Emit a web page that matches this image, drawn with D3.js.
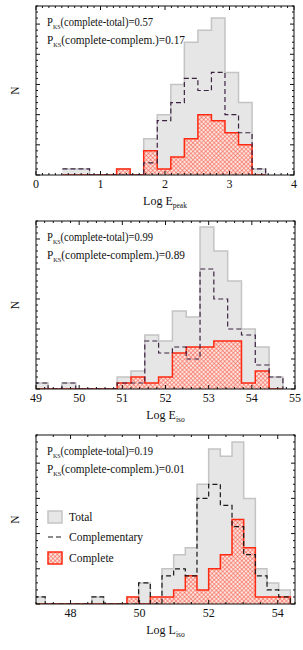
<!DOCTYPE html>
<html>
<head>
<meta charset="utf-8">
<script src="https://d3js.org/d3.v7.min.js"></script>
<style>
	body { margin: 0; padding: 0; background: #fff; }
	svg text { font-family: "Liberation Serif", "DejaVu Serif", serif; fill: #111; }
</style>
</head>
<body>
<svg id="chart" width="303" height="650"></svg>
<script>

// panel 1 : Log Epeak
var start1 = 0.41, width1 = 0.21;
var total1    = [1, 1, 0, 0, 1, 0, 6, 10, 15, 22, 24, 26, 17, 12, 1];
var complem1  = [1, 1, 0, 0, 0, 0, 2, 9, 12, 16, 14, 17, 10, 7, 1];
var complete1 = [0, 0, 0, 0, 1, 0, 4, 1, 3, 6, 10, 9, 7, 5, 0];
var ticks1 = [0, 1, 2, 3, 4];
var ks1 = ["0.57", "0.17"];

// panel 2 : Log Eiso
var start2 = 48.96, width2 = 0.32;
var total2    = [1, 0, 1, 0, 0, 0, 2, 3, 9, 8, 13, 12, 27, 23, 18, 10, 7, 2];
var complem2  = [1, 0, 1, 0, 0, 0, 1, 1, 8, 6, 7, 5, 20, 15, 10, 9, 4, 2];
var complete2 = [0, 0, 0, 0, 0, 0, 1, 2, 1, 2, 6, 7, 7, 8, 8, 1, 3, 0];
var ticks2 = [49, 50, 51, 52, 53, 54, 55];
var ks2 = ["0.99", "0.89"];

// panel 3 : Log Liso
var start3 = 46.93, width3 = 0.338;
var total3    = [1, 0, 0, 0, 0, 1, 0, 0, 1, 3, 1, 5, 7, 8, 17, 22, 21, 23, 15, 5, 3, 2];
var complem3  = [1, 0, 0, 0, 0, 1, 0, 0, 0, 3, 0, 4, 5, 4, 15, 17, 14, 11, 7, 4, 2, 1];
var complete3 = [0, 0, 0, 0, 0, 0, 0, 0, 1, 0, 1, 1, 2, 4, 2, 5, 7, 12, 8, 1, 1, 1];
var ticks3 = [48, 50, 52, 54];
var ks3 = ["0.19", "0.01"];

var legendLabels = ["Total", "Complementary", "Complete"];

var svg = d3.select("#chart");

var defs = svg.append("defs");
var pat = defs.append("pattern")
	.attr("id", "hatch")
	.attr("patternUnits", "userSpaceOnUse")
	.attr("width", 3).attr("height", 3)
	.attr("patternTransform", "rotate(45)");
pat.append("rect").attr("width", 3).attr("height", 3).attr("fill", "#fde3de");
pat.append("line").attr("x1", 0).attr("y1", 0).attr("x2", 0).attr("y2", 3)
	.attr("stroke", "#f4503c").attr("stroke-width", 1);
pat.append("line").attr("x1", 0).attr("y1", 0).attr("x2", 3).attr("y2", 0)
	.attr("stroke", "#f4503c").attr("stroke-width", 1);

var panels = [
	{ start: start1, width: width1, total: total1, complem: complem1, complete: complete1,
	  xdom: [0, 4], ydom: [0, 28], x0: 36, x1: 294, y0: 6, y1: 175,
	  ticks: ticks1, minor: 0.1, ks: ks1, label: "peak", dash: "#3d2342", legend: false },
	{ start: start2, width: width2, total: total2, complem: complem2, complete: complete2,
	  xdom: [49, 55], ydom: [0, 28], x0: 36, x1: 295, y0: 221, y1: 389,
	  ticks: ticks2, minor: 0.2, ks: ks2, label: "iso", dash: "#3d2342", legend: false },
	{ start: start3, width: width3, total: total3, complem: complem3, complete: complete3,
	  xdom: [47, 54.5], ydom: [0, 24], x0: 36, x1: 295, y0: 435, y1: 604,
	  ticks: ticks3, minor: 0.5, ks: ks3, label: "iso", dash: "#1a1a1a", legend: true }
];

panels.forEach(function(p, pi) {
	var x = d3.scaleLinear().domain(p.xdom).range([p.x0, p.x1]);
	var y = d3.scaleLinear().domain(p.ydom).range([p.y1, p.y0]);

	defs.append("clipPath").attr("id", "clip" + pi)
		.append("rect").attr("x", p.x0).attr("y", p.y0)
		.attr("width", p.x1 - p.x0).attr("height", p.y1 - p.y0);

	var g = svg.append("g");
	var plot = g.append("g").attr("clip-path", "url(#clip" + pi + ")");

	function steps(counts) {
		var pts = counts.map(function(c, i) { return { e: p.start + i * p.width, n: c }; });
		pts.push({ e: p.start + counts.length * p.width, n: 0 });
		return pts;
	}

	var area = d3.area()
		.x(function(d) { return x(d.e); })
		.y0(y(0))
		.y1(function(d) { return y(d.n); })
		.curve(d3.curveStepAfter);
	var line = d3.line()
		.x(function(d) { return x(d.e); })
		.y(function(d) { return y(d.n); })
		.curve(d3.curveStepAfter);

	// total
	plot.append("path").datum(steps(p.total))
		.attr("d", area).attr("fill", "#e6e6e6").attr("stroke", "none");
	plot.append("path").datum(steps(p.total))
		.attr("d", line).attr("fill", "none").attr("stroke", "#c4c4c4").attr("stroke-width", 1.5);

	// complete
	plot.append("path").datum(steps(p.complete))
		.attr("d", area).attr("fill", "url(#hatch)").attr("stroke", "none");
	plot.append("path").datum(steps(p.complete))
		.attr("d", line).attr("fill", "none").attr("stroke", "#ff2a12").attr("stroke-width", 1.5);

	// complementary
	plot.append("path").datum(steps(p.complem))
		.attr("d", line).attr("fill", "none").attr("stroke", p.dash)
		.attr("stroke-width", 1.2).attr("stroke-dasharray", "5,3");

	// frame
	g.append("rect").attr("x", p.x0).attr("y", p.y0)
		.attr("width", p.x1 - p.x0).attr("height", p.y1 - p.y0)
		.attr("fill", "none").attr("stroke", "#111").attr("stroke-width", 1);

	// ticks, inward on all four sides
	var minorX = d3.range(p.xdom[0], p.xdom[1] + 1e-6, p.minor);
	var tk = g.append("g").attr("stroke", "#111").attr("stroke-width", 1);
	minorX.forEach(function(v) {
		var major = p.ticks.some(function(t) { return Math.abs(t - v) < 1e-6; });
		var len = major ? 4 : 2;
		tk.append("line").attr("x1", x(v)).attr("x2", x(v)).attr("y1", p.y1).attr("y2", p.y1 - len);
		tk.append("line").attr("x1", x(v)).attr("x2", x(v)).attr("y1", p.y0).attr("y2", p.y0 + len);
	});
	d3.range(p.ydom[0], p.ydom[1] + 1e-6, 1).forEach(function(v) {
		var len = v % 5 === 0 ? 4 : 2;
		tk.append("line").attr("x1", p.x0).attr("x2", p.x0 + len).attr("y1", y(v)).attr("y2", y(v));
		tk.append("line").attr("x1", p.x1).attr("x2", p.x1 - len).attr("y1", y(v)).attr("y2", y(v));
	});

	// x tick labels
	g.selectAll("text.tl").data(p.ticks).enter().append("text")
		.attr("class", "tl")
		.attr("x", function(d) { return x(d); })
		.attr("y", p.y1 + 13)
		.attr("text-anchor", "middle")
		.attr("font-size", 12)
		.text(function(d) { return d; });

	// axis titles
	var xt = g.append("text")
		.attr("x", (p.x0 + p.x1) / 2)
		.attr("y", p.y1 + 30)
		.attr("text-anchor", "middle")
		.attr("font-size", 12);
	xt.append("tspan").text("Log " + (pi === 2 ? "L" : "E"));
	xt.append("tspan").attr("font-size", 7.5).attr("dy", 3).text(p.label);

	g.append("text")
		.attr("transform", "translate(19," + ((p.y0 + p.y1) / 2) + ") rotate(-90)")
		.attr("text-anchor", "middle")
		.attr("font-size", 11.5)
		.text("N");

	// KS annotations
	var names = ["(complete-total)=", "(complete-complem.)="];
	var widths = [106, 138];
	names.forEach(function(nm, k) {
		var t = g.append("text")
			.attr("x", p.x0 + 11)
			.attr("y", p.y0 + 20 + k * 18)
			.attr("font-size", 12.5)
			.attr("textLength", widths[k])
			.attr("lengthAdjust", "spacingAndGlyphs");
		t.append("tspan").text("P");
		t.append("tspan").attr("font-size", 7).attr("dy", 2.5).text("KS");
		t.append("tspan").attr("dy", -2.5).text(nm + p.ks[k]);
	});

	// legend
	if (p.legend) {
		var lg = g.append("g");
		var ly = [517, 537, 558];
		lg.append("rect").attr("x", 48).attr("y", ly[0] - 6).attr("width", 14).attr("height", 12)
			.attr("fill", "#e6e6e6").attr("stroke", "#c4c4c4").attr("stroke-width", 1.5);
		lg.append("line").attr("x1", 48).attr("x2", 63).attr("y1", ly[1]).attr("y2", ly[1])
			.attr("stroke", p.dash).attr("stroke-width", 1.2).attr("stroke-dasharray", "5,3");
		lg.append("rect").attr("x", 48).attr("y", ly[2] - 6).attr("width", 14).attr("height", 12)
			.attr("fill", "url(#hatch)").attr("stroke", "#ff2a12").attr("stroke-width", 1.5);
		lg.selectAll("text").data(legendLabels).enter().append("text")
			.attr("x", 69)
			.attr("y", function(d, i) { return ly[i] + 4; })
			.attr("font-size", 11.5)
			.text(function(d) { return d; });
	}
});

</script>
</body>
</html>
